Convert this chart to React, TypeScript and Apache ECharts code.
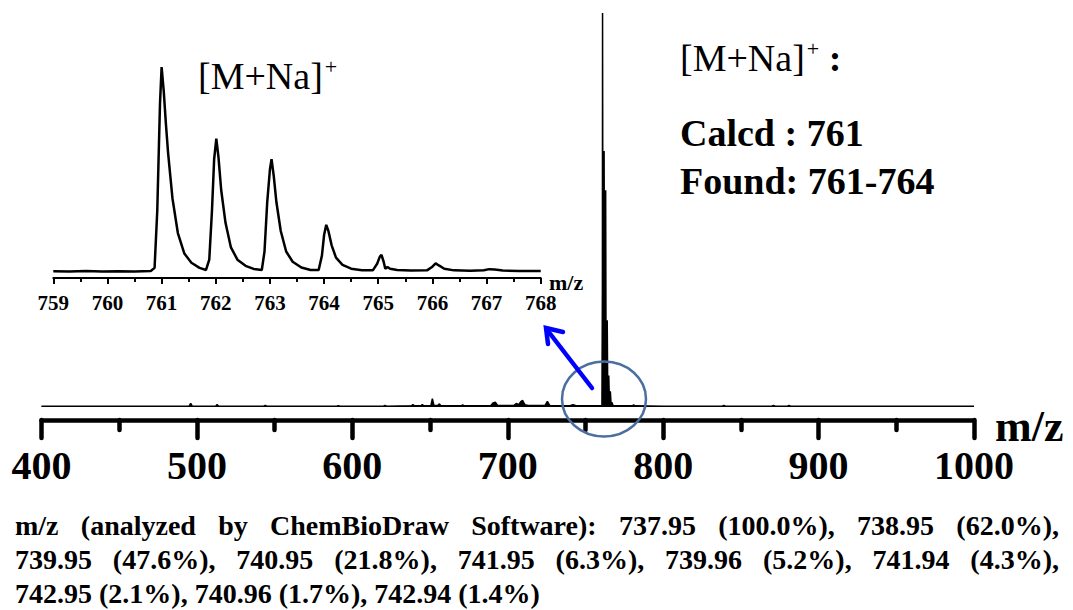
import React, { useEffect, useRef } from "react";
import * as echarts from "echarts";

const SERIF = "Liberation Serif";

// Main spectrum (m/z, relative intensity %)
const mainSpectrum: [number, number][] = [
  [400, 0.2], [480, 0.2], [495, 0.2], [496, 0.9], [497, 0.2], [512, 0.2], [513, 0.6], [514, 0.2],
  [543, 0.2], [544, 0.4], [545, 0.2], [590, 0.2], [591, 0.35], [592, 0.2], [620, 0.2], [621, 0.4],
  [622, 0.2], [638, 0.3], [639, 0.6], [640, 0.3], [644, 0.3], [645, 0.6], [646, 0.3], [650.5, 0.3],
  [651.5, 2.1], [652.5, 0.4], [655, 0.4], [656, 0.8], [657, 0.3], [670, 0.3], [671, 0.5], [672, 0.3],
  [689, 0.3], [690.5, 1.0], [692, 1.2], [693.5, 0.4], [704, 0.4], [705.5, 0.9], [707, 0.6], [708.5, 1.4],
  [709.5, 1.7], [711, 0.6], [713, 0.4], [724, 0.4], [725.5, 1.4], [727, 0.4], [740, 0.3], [742, 0.6],
  [744, 0.3], [760.6, 0.3], [760.9, 30], [761, 100], [761.2, 40], [761.5, 10], [761.85, 5], [762, 65],
  [762.2, 25], [762.5, 8], [762.85, 5], [763, 55], [763.2, 20], [763.5, 6], [763.85, 3], [764, 22],
  [764.3, 6], [764.8, 2], [765, 8], [765.4, 1.5], [766, 4], [766.5, 0.8], [767, 1.2], [767.8, 0.3],
  [780, 0.3], [781, 0.5], [782, 0.3], [800, 0.2], [838, 0.2], [839, 0.4], [840, 0.2], [870, 0.2],
  [871, 0.4], [872, 0.2], [880, 0.2], [881, 0.4], [882, 0.2], [1000, 0.2],
];

// Inset: isotope pattern of [M+Na]+ (m/z, relative intensity %)
const insetSpectrum: [number, number][] = [
  [759.0, 0.4], [759.3, 0.3], [759.6, 0.5], [759.9, 0.3], [760.2, 0.4], [760.5, 0.3], [760.8, 0.5],
  [760.87, 2], [760.92, 30], [760.97, 82], [761.0, 100], [761.04, 88], [761.08, 72], [761.12, 58],
  [761.2, 36], [761.3, 19], [761.42, 9], [761.55, 4.5], [761.7, 2], [761.82, 1],
  [761.88, 6], [761.93, 30], [761.97, 55], [762.01, 65], [762.05, 56], [762.1, 40], [762.18, 24],
  [762.28, 12], [762.4, 6], [762.55, 3], [762.7, 1.5], [762.85, 1],
  [762.9, 10], [762.95, 34], [763.0, 50], [763.03, 55], [763.07, 47], [763.12, 34], [763.2, 20],
  [763.3, 10], [763.42, 5], [763.58, 2.2], [763.75, 1.0], [763.9, 1.0],
  [763.96, 8], [764.0, 18], [764.04, 23], [764.08, 20], [764.14, 13], [764.22, 7], [764.34, 3.5],
  [764.5, 1.6], [764.7, 0.9], [764.9, 0.8],
  [764.98, 4], [765.03, 7.5], [765.06, 8.3], [765.1, 5], [765.13, 1.6], [765.17, 2.4], [765.22, 1.6],
  [765.35, 1.0], [765.6, 0.7], [765.9, 0.8],
  [766.0, 2.6], [766.06, 4.2], [766.12, 3.2], [766.22, 1.6], [766.4, 0.8], [766.7, 0.6],
  [766.95, 0.9], [767.05, 1.4], [767.15, 1.2], [767.3, 0.7], [767.6, 0.5], [768.0, 0.5],
];

const mainRange = [400, 1000];
const insetRange = [759, 768];

const resultLines = ["Calcd : 761", "Found: 761-764"];
const isotopeLine1 = ["m/z", "(analyzed", "by", "ChemBioDraw", "Software):", "737.95", "(100.0%),", "738.95", "(62.0%),"];
const isotopeLine2 = ["739.95", "(47.6%),", "740.95", "(21.8%),", "741.95", "(6.3%),", "739.96", "(5.2%),", "741.94", "(4.3%),"];
const isotopeLine3 = "742.95 (2.1%), 740.96 (1.7%), 742.94 (1.4%)";

function justify(tokens: string[], font: string, left: number, right: number): number[] {
  const ctx = document.createElement("canvas").getContext("2d") as CanvasRenderingContext2D;
  ctx.font = font;
  const widths = tokens.map((t) => ctx.measureText(t).width);
  const total = widths.reduce((a, b) => a + b, 0);
  const gap = (right - left - total) / (tokens.length - 1);
  let x = left;
  return tokens.map((_, i) => {
    const p = x;
    x += widths[i] + gap;
    return p;
  });
}

export default function App() {
  const ref = useRef<HTMLDivElement>(null);

  useEffect(() => {
    if (!ref.current) return;
    const chart = echarts.init(ref.current, undefined, { renderer: "svg" });

    const fontOf = (size: number, weight = "bold") => `${weight} ${size}px ${SERIF}`;
    const textStyle = (text: string, size: number, weight = "bold") => ({
      text,
      font: fontOf(size, weight),
      fontFamily: SERIF,
      fontSize: size,
      fontWeight: weight,
      fill: "#000",
      align: "left",
      verticalAlign: "middle",
    });

    const bottomTexts: any[] = [];
    const pushLine = (tokens: string[], y: number) => {
      const xs = justify(tokens, fontOf(28), 15, 1059);
      tokens.forEach((t, i) => {
        bottomTexts.push({ type: "text", x: xs[i], y, style: textStyle(t, 28) });
      });
    };
    pushLine(isotopeLine1, 525);
    pushLine(isotopeLine2, 559);
    bottomTexts.push({ type: "text", x: 15, y: 593, style: textStyle(isotopeLine3, 28) });

    const ionLabel = (x: number, y: number, colon: boolean) => ({
      type: "text",
      x,
      y,
      style: {
        text: "{a|[M+Na]}{s|+}" + (colon ? "{b| :}" : ""),
        fill: "#000",
        align: "left",
        verticalAlign: "middle",
        rich: {
          a: { fontFamily: SERIF, fontSize: 38, fontWeight: "normal", fill: "#000", lineHeight: 44 },
          s: { fontFamily: SERIF, fontSize: 22, fontWeight: "normal", fill: "#000", padding: [0, 0, 20, 2], lineHeight: 44 },
          b: { fontFamily: SERIF, fontSize: 38, fontWeight: "bold", fill: "#000", lineHeight: 44 },
        },
      },
    });

    const option: any = {
      animation: false,
      grid: [
        { left: 41.5, right: 99, top: 13, bottom: 203 },
        { left: 53.3, right: 532.3, top: 67, bottom: 338 },
      ],
      xAxis: [
        {
          gridIndex: 0,
          type: "value",
          min: mainRange[0],
          max: mainRange[1],
          interval: 100,
          offset: 13,
          axisLine: { onZero: false, lineStyle: { color: "#000", width: 4.5, cap: "round" } },
          axisTick: { length: 18, lineStyle: { color: "#000", width: 4.5, cap: "round" } },
          minorTick: { show: true, splitNumber: 2, length: 10, lineStyle: { color: "#000", width: 4.5, cap: "round" } },
          splitLine: { show: false },
          minorSplitLine: { show: false },
          axisLabel: {
            fontFamily: SERIF, fontWeight: "bold", fontSize: 40, color: "#000", margin: 25,
            showMinLabel: true, showMaxLabel: true, formatter: (v: number) => String(v),
          },
        },
        {
          gridIndex: 1,
          type: "value",
          min: insetRange[0],
          max: insetRange[1],
          interval: 1,
          offset: 6,
          axisLine: { onZero: false, lineStyle: { color: "#000", width: 2 } },
          axisTick: { length: 6, lineStyle: { color: "#000", width: 2 } },
          minorTick: { show: true, splitNumber: 2, length: 4, lineStyle: { color: "#000", width: 2 } },
          splitLine: { show: false },
          minorSplitLine: { show: false },
          axisLabel: {
            fontFamily: SERIF, fontWeight: "bold", fontSize: 21, color: "#000", margin: 14,
            showMinLabel: true, showMaxLabel: true, formatter: (v: number) => String(v),
          },
        },
      ],
      yAxis: [
        { gridIndex: 0, type: "value", min: 0, max: 100, show: false },
        { gridIndex: 1, type: "value", min: 0, max: 100, show: false },
      ],
      series: [
        {
          type: "line",
          xAxisIndex: 0,
          yAxisIndex: 0,
          data: mainSpectrum,
          symbol: "none",
          clip: false,
          lineStyle: { color: "#000", width: 1.5 },
          areaStyle: { color: "#000", opacity: 1 },
        },
        {
          type: "line",
          xAxisIndex: 1,
          yAxisIndex: 1,
          data: insetSpectrum,
          symbol: "none",
          clip: false,
          lineStyle: { color: "#000", width: 2.5 },
        },
      ],
      graphic: [
        ionLabel(680, 58, true),
        { type: "text", x: 680, y: 133, style: textStyle(resultLines[0], 38) },
        { type: "text", x: 680, y: 181, style: textStyle(resultLines[1], 38) },
        ionLabel(198, 76, false),
        { type: "text", x: 995, y: 426, style: textStyle("m/z", 44) },
        { type: "text", x: 549, y: 282, style: textStyle("m/z", 22) },
        {
          type: "ellipse",
          shape: { cx: 604, cy: 399, rx: 42, ry: 37.5 },
          style: { fill: "none", stroke: "#4a6f9e", lineWidth: 2.5 },
          z: 100,
        },
        {
          type: "line",
          shape: { x1: 592, y1: 388, x2: 548, y2: 331 },
          style: { stroke: "#0000ff", lineWidth: 4.5, lineCap: "round" },
          z: 100,
        },
        {
          type: "polyline",
          shape: { points: [[548, 344], [546, 328], [563, 332]] },
          style: { stroke: "#0000ff", lineWidth: 4.5, fill: "none", lineCap: "round", lineJoin: "miter" },
          z: 100,
        },
        ...bottomTexts,
      ],
    };

    chart.setOption(option);
    return () => chart.dispose();
  }, []);

  return (
    <div
      ref={ref}
      style={{ position: "fixed", left: 0, top: 0, width: 1073, height: 610, background: "#fff" }}
    />
  );
}
